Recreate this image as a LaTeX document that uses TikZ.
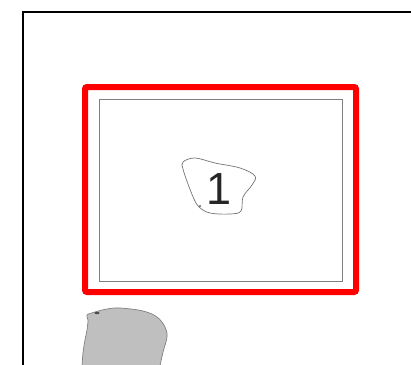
\documentclass[tikz,border=0pt]{standalone}
\usepackage{fontspec}
\setmainfont{Liberation Sans}
\usepackage{tikz}
\usetikzlibrary{calc}
\colorlet{frameRed}{red}
\colorlet{rockGray}{black!25}

\begin{document}
\begin{tikzpicture}[x=1pt, y=-1pt,
    blob/.style={draw=black!55, line width=0.7pt},
    rock/.style={draw=black!50, fill=rockGray, line width=0.7pt}]
  \useasboundingbox (0,0) rectangle (411,364);
  % map frame
  \draw[black, line width=1.8pt] (23,366) -- (23,12) -- (413,12);
  % red border and inner box
  \draw[frameRed, line width=6pt, rounded corners=2pt] (85,87) rectangle (356,292);
  \draw[black!50, line width=0.9pt] (99,99) rectangle (342,281);
  % outline 1
  \draw[blob] plot[smooth cycle, tension=0.6] coordinates {
    (183,162) (195,158) (215,163) (240,168) (255,176) (252,185)
    (243,197) (241,211) (230,214) (210,213) (199,207) (194,199)
    (188,184) (183,169)};
  \fill[black!60] (200,206) circle (1.2);
  \node[text=black!85, font=\fontsize{45}{45}\selectfont] (num1) at (219,189) {1};
  % grey patch
  \draw[rock] plot[smooth, tension=0.6] coordinates {
    (82,366) (83,353) (85,340) (87,330) (88,320) (87,315) (95,312)
    (107,309) (120,308) (143,311) (157,317) (165,327) (167,337)
    (163,352) (160,366)};
  \fill[black!70] (97,313) ellipse (2.5 and 1.2);
\end{tikzpicture}
\end{document}
